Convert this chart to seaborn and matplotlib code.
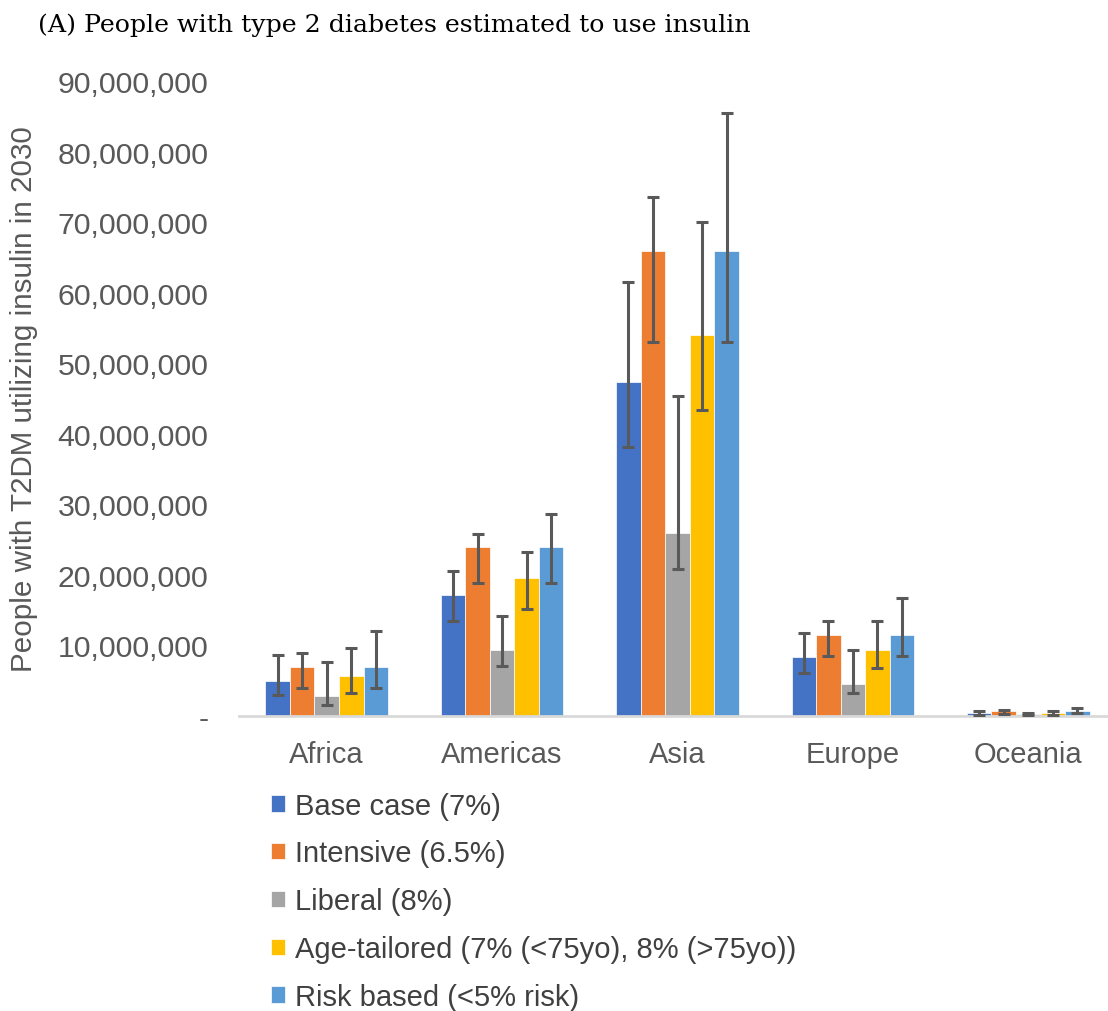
import matplotlib
matplotlib.use("Agg")
import matplotlib.pyplot as plt
import seaborn as sns
import pandas as pd
import numpy as np
from matplotlib.ticker import FuncFormatter

regions = ["Africa", "Americas", "Asia", "Europe", "Oceania"]
scenarios = ["Base case (7%)", "Intensive (6.5%)", "Liberal (8%)",
             "Age-tailored (7% (<75yo), 8% (>75yo))", "Risk based (<5% risk)"]

# values in people (per scenario, per region)
base_case = [5.0e6, 17.2e6, 47.3e6, 8.4e6, 0.45e6]
intensive = [7.0e6, 23.9e6, 65.9e6, 11.5e6, 0.7e6]
liberal = [2.8e6, 9.4e6, 25.9e6, 4.5e6, 0.3e6]
age_tailored = [5.6e6, 19.6e6, 54.0e6, 9.4e6, 0.45e6]
risk_based = [7.0e6, 23.9e6, 65.9e6, 11.5e6, 0.7e6]

# error bar bounds
base_low = [3.0e6, 13.5e6, 38.1e6, 6.1e6, 0.2e6]
base_high = [8.6e6, 20.5e6, 61.5e6, 11.8e6, 0.75e6]
int_low = [4.0e6, 18.8e6, 53.0e6, 8.5e6, 0.3e6]
int_high = [9.0e6, 25.8e6, 73.6e6, 13.5e6, 0.85e6]
lib_low = [1.6e6, 7.1e6, 20.8e6, 3.3e6, 0.1e6]
lib_high = [7.6e6, 14.2e6, 45.4e6, 9.35e6, 0.4e6]
age_low = [3.3e6, 15.2e6, 43.4e6, 6.8e6, 0.2e6]
age_high = [9.7e6, 23.3e6, 70.0e6, 13.5e6, 0.75e6]
risk_low = [4.0e6, 18.8e6, 53.0e6, 8.5e6, 0.4e6]
risk_high = [12.1e6, 28.6e6, 85.5e6, 16.7e6, 1.1e6]

colors = ["#4472C4", "#ED7D31", "#A5A5A5", "#FFC000", "#5B9BD5"]

series = [base_case, intensive, liberal, age_tailored, risk_based]
lows = [base_low, int_low, lib_low, age_low, risk_low]
highs = [base_high, int_high, lib_high, age_high, risk_high]

rows = []
for s, vals in zip(scenarios, series):
    for r, v in zip(regions, vals):
        rows.append({"region": r, "scenario": s, "value": v})
df = pd.DataFrame(rows)

sns.set_theme(style="white")
plt.rcParams["font.family"] = ["Liberation Sans", "DejaVu Sans"]

fig = plt.figure(figsize=(11.08, 10.12), dpi=100)
ax = fig.add_axes([239/1108, 1-717/1012, (1116-239)/1108, (717-82)/1012])

sns.barplot(data=df, x="region", y="value", hue="scenario", order=regions,
            hue_order=scenarios, palette=colors, width=0.7, saturation=1,
            errorbar=None, edgecolor="white", linewidth=0.5, ax=ax)

for cont, lo, hi in zip(ax.containers, lows, highs):
    for p, l, h in zip(cont.patches, lo, hi):
        x = p.get_x() + p.get_width() / 2
        y = p.get_height()
        ax.errorbar(x, y, yerr=[[y - l], [h - y]], fmt="none", ecolor="#595959",
                    elinewidth=2.2, capsize=4.5, capthick=2.2, zorder=5)

ax.set_ylim(0, 90e6)
ax.set_xlim(-0.5, 4.5)
ax.set_yticks(np.arange(0, 90e6 + 1, 10e6))
ax.yaxis.set_major_formatter(FuncFormatter(lambda v, p: "-" if v == 0 else f"{int(v):,}"))
ax.tick_params(axis="y", labelsize=21.8, labelcolor="#595959", length=0, pad=22)
ax.tick_params(axis="x", labelsize=21, labelcolor="#595959", length=0, pad=17)
ax.set_xlabel("")
ax.set_ylabel("People with T2DM utilizing insulin in 2030", fontsize=21.3, color="#595959", labelpad=14)
for sp in ["top", "right", "left"]:
    ax.spines[sp].set_visible(False)
ax.spines["bottom"].set_color("#D9D9D9")
ax.spines["bottom"].set_linewidth(2)

handles, labels = ax.get_legend_handles_labels()
if ax.legend_:
    ax.legend_.remove()
fig.legend(handles, labels, loc="upper left", bbox_to_anchor=(259/1108, 1-781/1012),
           frameon=False, fontsize=21, labelcolor="#404040", handlelength=0.5,
           handleheight=0.5, handletextpad=0.35, labelspacing=0.68, borderaxespad=0)

fig.text(38/1108, 1-25/1012, "(A) People with type 2 diabetes estimated to use insulin",
         fontsize=18.2, family="DejaVu Serif", color="black", va="center", ha="left")

fig.savefig("out.png", dpi=100, facecolor="white")
